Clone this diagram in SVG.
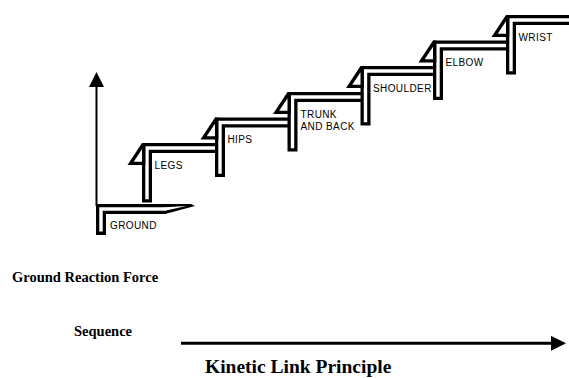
<svg xmlns="http://www.w3.org/2000/svg" width="569" height="378" viewBox="0 0 569 378">
  <style>
    .edge { fill: none; stroke: #000; stroke-width: 10; stroke-linejoin: miter; stroke-linecap: butt; }
    .core { fill: none; stroke: #fff; stroke-width: 3.4; stroke-linejoin: miter; stroke-linecap: butt; }
    .lbl { font-family: "Liberation Sans", Arial, sans-serif; font-size: 10px; letter-spacing: 0.4px; fill: #000; }
    .cap { font-family: "Liberation Serif", "Times New Roman", serif; font-weight: bold; fill: #000; }
    .axis { fill: none; stroke: #000; }
  </style>
  <defs>
    <!-- "4"-shaped nosing at the front edge of each tread; origin = tread top-left corner -->
    <g id="nose">
      <path d="M0,0 L-14.5,22 L3.3,22 L3.3,0 Z" fill="#000"/>
      <path d="M0,6.3 L-8.3,18.8 L0,18.8 Z" fill="#fff"/>
    </g>
    <marker id="head" viewBox="0 0 16 16" markerWidth="16" markerHeight="15" markerUnits="userSpaceOnUse" refX="0" refY="8" orient="auto">
      <path d="M0,0 L16,8 L0,16 Z" fill="#000"/>
    </marker>
  </defs>

  <rect width="569" height="378" fill="#fff"/>

  <!-- axes -->
  <g id="connectors">
    <path class="axis" stroke-width="2" d="M96.5,206 V87" marker-end="url(#head)"/>
    <path class="axis" stroke-width="3" d="M181,343.3 H551" marker-end="url(#head)"/>
  </g>

  <!-- ground platform -->
  <g id="ground">
    <path class="edge" d="M101,235 V209 H166"/>
    <path d="M165,204 L191,204 L195,206 L165,214 Z" fill="#000"/>
    <path class="core" d="M101,231.6 V209 H166"/>
    <path d="M165,207.3 L186.5,206 L165,210.7 Z" fill="#fff"/>
    <text class="lbl" x="110" y="229">GROUND</text>
  </g>

  <!-- steps: riser up from the bottom, tread running right to the next riser -->
  <g id="legs">
    <path class="edge" d="M147,202.5 V148 H220"/>
    <path class="core" d="M147,199.2 V148 H220"/>
    <use href="#nose" x="142" y="143"/>
    <text class="lbl" x="154.5" y="168.5">LEGS</text>
  </g>

  <g id="hips">
    <path class="edge" d="M220,177 V122.5 H292.5"/>
    <path class="core" d="M220,173.7 V122.5 H292.5"/>
    <use href="#nose" x="215" y="117.5"/>
    <text class="lbl" x="227.5" y="143">HIPS</text>
  </g>

  <g id="trunk">
    <path class="edge" d="M292.5,151.5 V97 H365.5"/>
    <path class="core" d="M292.5,148.2 V97 H365.5"/>
    <use href="#nose" x="287.5" y="92"/>
    <text class="lbl" x="300.5" y="117.5">TRUNK</text>
    <text class="lbl" x="300.5" y="129.5">AND BACK</text>
  </g>

  <g id="shoulder">
    <path class="edge" d="M365.5,125.5 V71 H438"/>
    <path class="core" d="M365.5,122.2 V71 H438"/>
    <use href="#nose" x="360.5" y="66"/>
    <text class="lbl" x="373" y="91.5">SHOULDER</text>
  </g>

  <g id="elbow">
    <path class="edge" d="M438,100 V45.5 H511"/>
    <path class="core" d="M438,96.7 V45.5 H511"/>
    <use href="#nose" x="433" y="40.5"/>
    <text class="lbl" x="445.5" y="66">ELBOW</text>
  </g>

  <g id="wrist">
    <path class="edge" d="M511,74.5 V20 H575"/>
    <path class="core" d="M511,71.2 V20 H575"/>
    <use href="#nose" x="506" y="15"/>
    <text class="lbl" x="518.5" y="40.5">WRIST</text>
  </g>

  <!-- captions -->
  <g id="captions">
    <text class="cap" x="12" y="281.5" font-size="14.5">Ground Reaction Force</text>
    <text class="cap" x="74" y="336" font-size="14.5">Sequence</text>
    <text class="cap" x="205" y="373" font-size="19.5">Kinetic Link Principle</text>
  </g>
</svg>
